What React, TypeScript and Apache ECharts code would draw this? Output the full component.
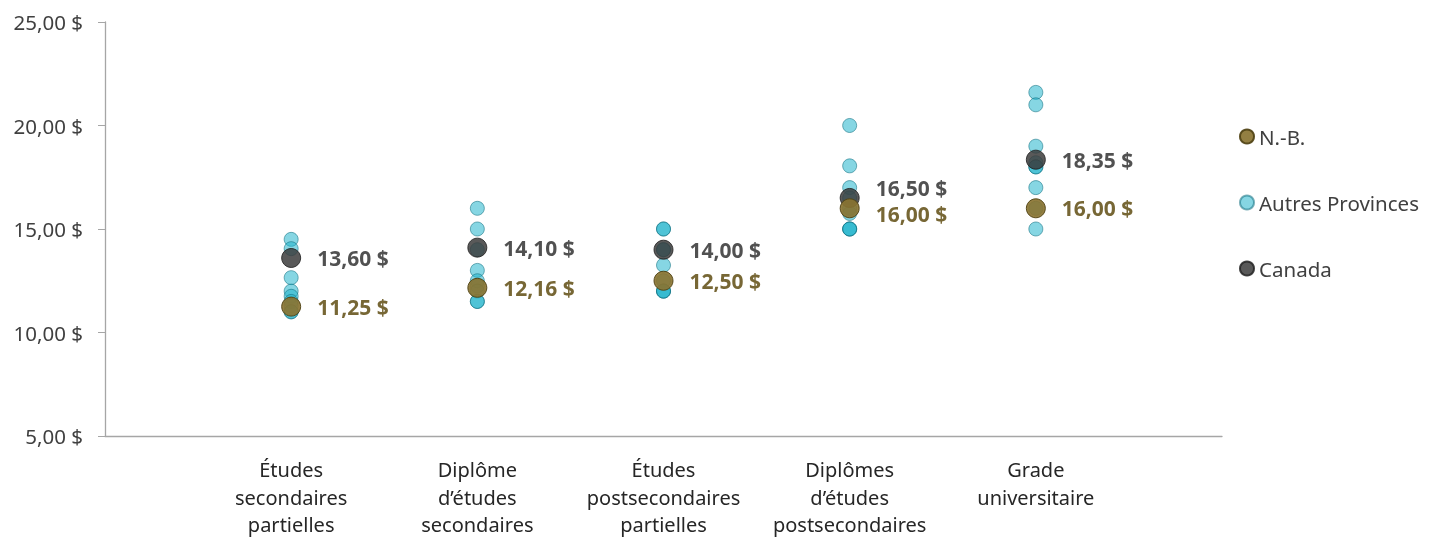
import React, { useEffect, useRef } from "react";
import * as echarts from "echarts";

const categories = [
  "Études\nsecondaires\npartielles",
  "Diplôme\nd’études\nsecondaires",
  "Études\npostsecondaires\npartielles",
  "Diplômes\nd’études\npostsecondaires",
  "Grade\nuniversitaire",
];
const nbValues = [11.25, 12.16, 12.5, 16.0, 16.0];
const canadaValues = [13.6, 14.1, 14.0, 16.5, 18.35];
const otherProvinces = [
  [14.5, 14.05, 12.65, 12.0, 11.75, 11.5, 11.3, 11.0, 11.0],
  [16.0, 15.0, 14.0, 13.0, 12.5, 12.25, 12.0, 11.5, 11.5],
  [15.0, 15.0, 14.0, 14.0, 13.25, 12.5, 12.0, 12.0, 12.0],
  [20.0, 18.05, 17.0, 16.5, 16.0, 15.75, 15.0, 15.0, 15.0],
  [21.6, 21.0, 19.0, 18.2, 18.0, 18.0, 17.0, 16.0, 15.0],
];
const yTicks = { min: 5, max: 25, interval: 5 };

const FONT = "'Noto Sans', sans-serif";
const money = (v: number) => v.toFixed(2).replace(".", ",") + " $";

export default function App() {
  const ref = useRef<HTMLDivElement>(null);
  useEffect(() => {
    if (!ref.current) return;
    const chart = echarts.init(ref.current, undefined, { renderer: "svg" });
    const otherData: number[][] = [];
    otherProvinces.forEach((vals, i) => vals.forEach((v) => otherData.push([i + 1, v])));
    const canadaData = canadaValues.map((v, i) => {
      const d: any = { value: [i + 1, v] };
      if (Math.abs(v - nbValues[i]) < 1) d.label = { offset: [0, -10] };
      return d;
    });
    const nbData = nbValues.map((v, i) => {
      const d: any = { value: [i + 1, v] };
      if (Math.abs(v - canadaValues[i]) < 1) d.label = { offset: [0, 6] };
      return d;
    });
    chart.setOption({
      animation: false,
      textStyle: { fontFamily: FONT },
      grid: { left: 105, right: 210, top: 22, bottom: 104, containLabel: false },
      legend: {
        orient: "vertical",
        left: 1234,
        top: 121,
        itemGap: 45,
        itemWidth: 14,
        itemHeight: 14,
        icon: "circle",
        data: ["N.-B.", "Autres Provinces", "Canada"],
        textStyle: { fontFamily: FONT, fontSize: 20.5, color: "#404040" },
      },
      xAxis: {
        type: "value",
        min: 0,
        max: 6,
        interval: 1,
        splitLine: { show: false },
        axisTick: { show: false },
        axisLine: { lineStyle: { color: "#A6A6A6", width: 1.3 } },
        axisLabel: {
          margin: 20,
          fontFamily: FONT,
          fontSize: 20,
          lineHeight: 27.5,
          color: "#262626",
          formatter: (v: number) => (v >= 1 && v <= 5 ? categories[v - 1] : ""),
        },
      },
      yAxis: {
        type: "value",
        min: yTicks.min,
        max: yTicks.max,
        interval: yTicks.interval,
        splitLine: { show: false },
        axisTick: { show: true, length: 7, lineStyle: { color: "#A6A6A6" } },
        axisLine: { show: true, lineStyle: { color: "#A6A6A6", width: 1.3 } },
        axisLabel: {
          margin: 22,
          fontFamily: FONT,
          fontSize: 20.5,
          color: "#404040",
          formatter: (v: number) => money(v),
        },
      },
      series: [
        {
          name: "Autres Provinces",
          type: "scatter",
          symbolSize: 14,
          data: otherData,
          itemStyle: { color: "#22B5CC", opacity: 0.55, borderColor: "#0F6E7E", borderWidth: 1 },
          z: 2,
        },
        {
          name: "Canada",
          type: "scatter",
          symbolSize: 19,
          data: canadaData,
          itemStyle: { color: "#3C3C3C", opacity: 0.85, borderColor: "#222", borderWidth: 1 },
          label: {
            show: true,
            position: "right",
            distance: 16,
            fontFamily: FONT,
            fontSize: 21,
            lineHeight: 20,
            fontWeight: "bold",
            color: "#333333",
            formatter: (p: any) => money(p.value[1]),
          },
          z: 3,
        },
        {
          name: "N.-B.",
          type: "scatter",
          symbolSize: 19,
          data: nbData,
          itemStyle: { color: "#8A7432", opacity: 0.92, borderColor: "#4F4214", borderWidth: 1 },
          label: {
            show: true,
            position: "right",
            distance: 16,
            fontFamily: FONT,
            fontSize: 21,
            lineHeight: 20,
            fontWeight: "bold",
            color: "#6B5A24",
            formatter: (p: any) => money(p.value[1]),
          },
          z: 4,
        },
      ],
    });
    return () => chart.dispose();
  }, []);
  return (
    <div
      ref={ref}
      style={{ position: "fixed", left: 0, top: 0, width: 1432, height: 540 }}
    />
  );
}
